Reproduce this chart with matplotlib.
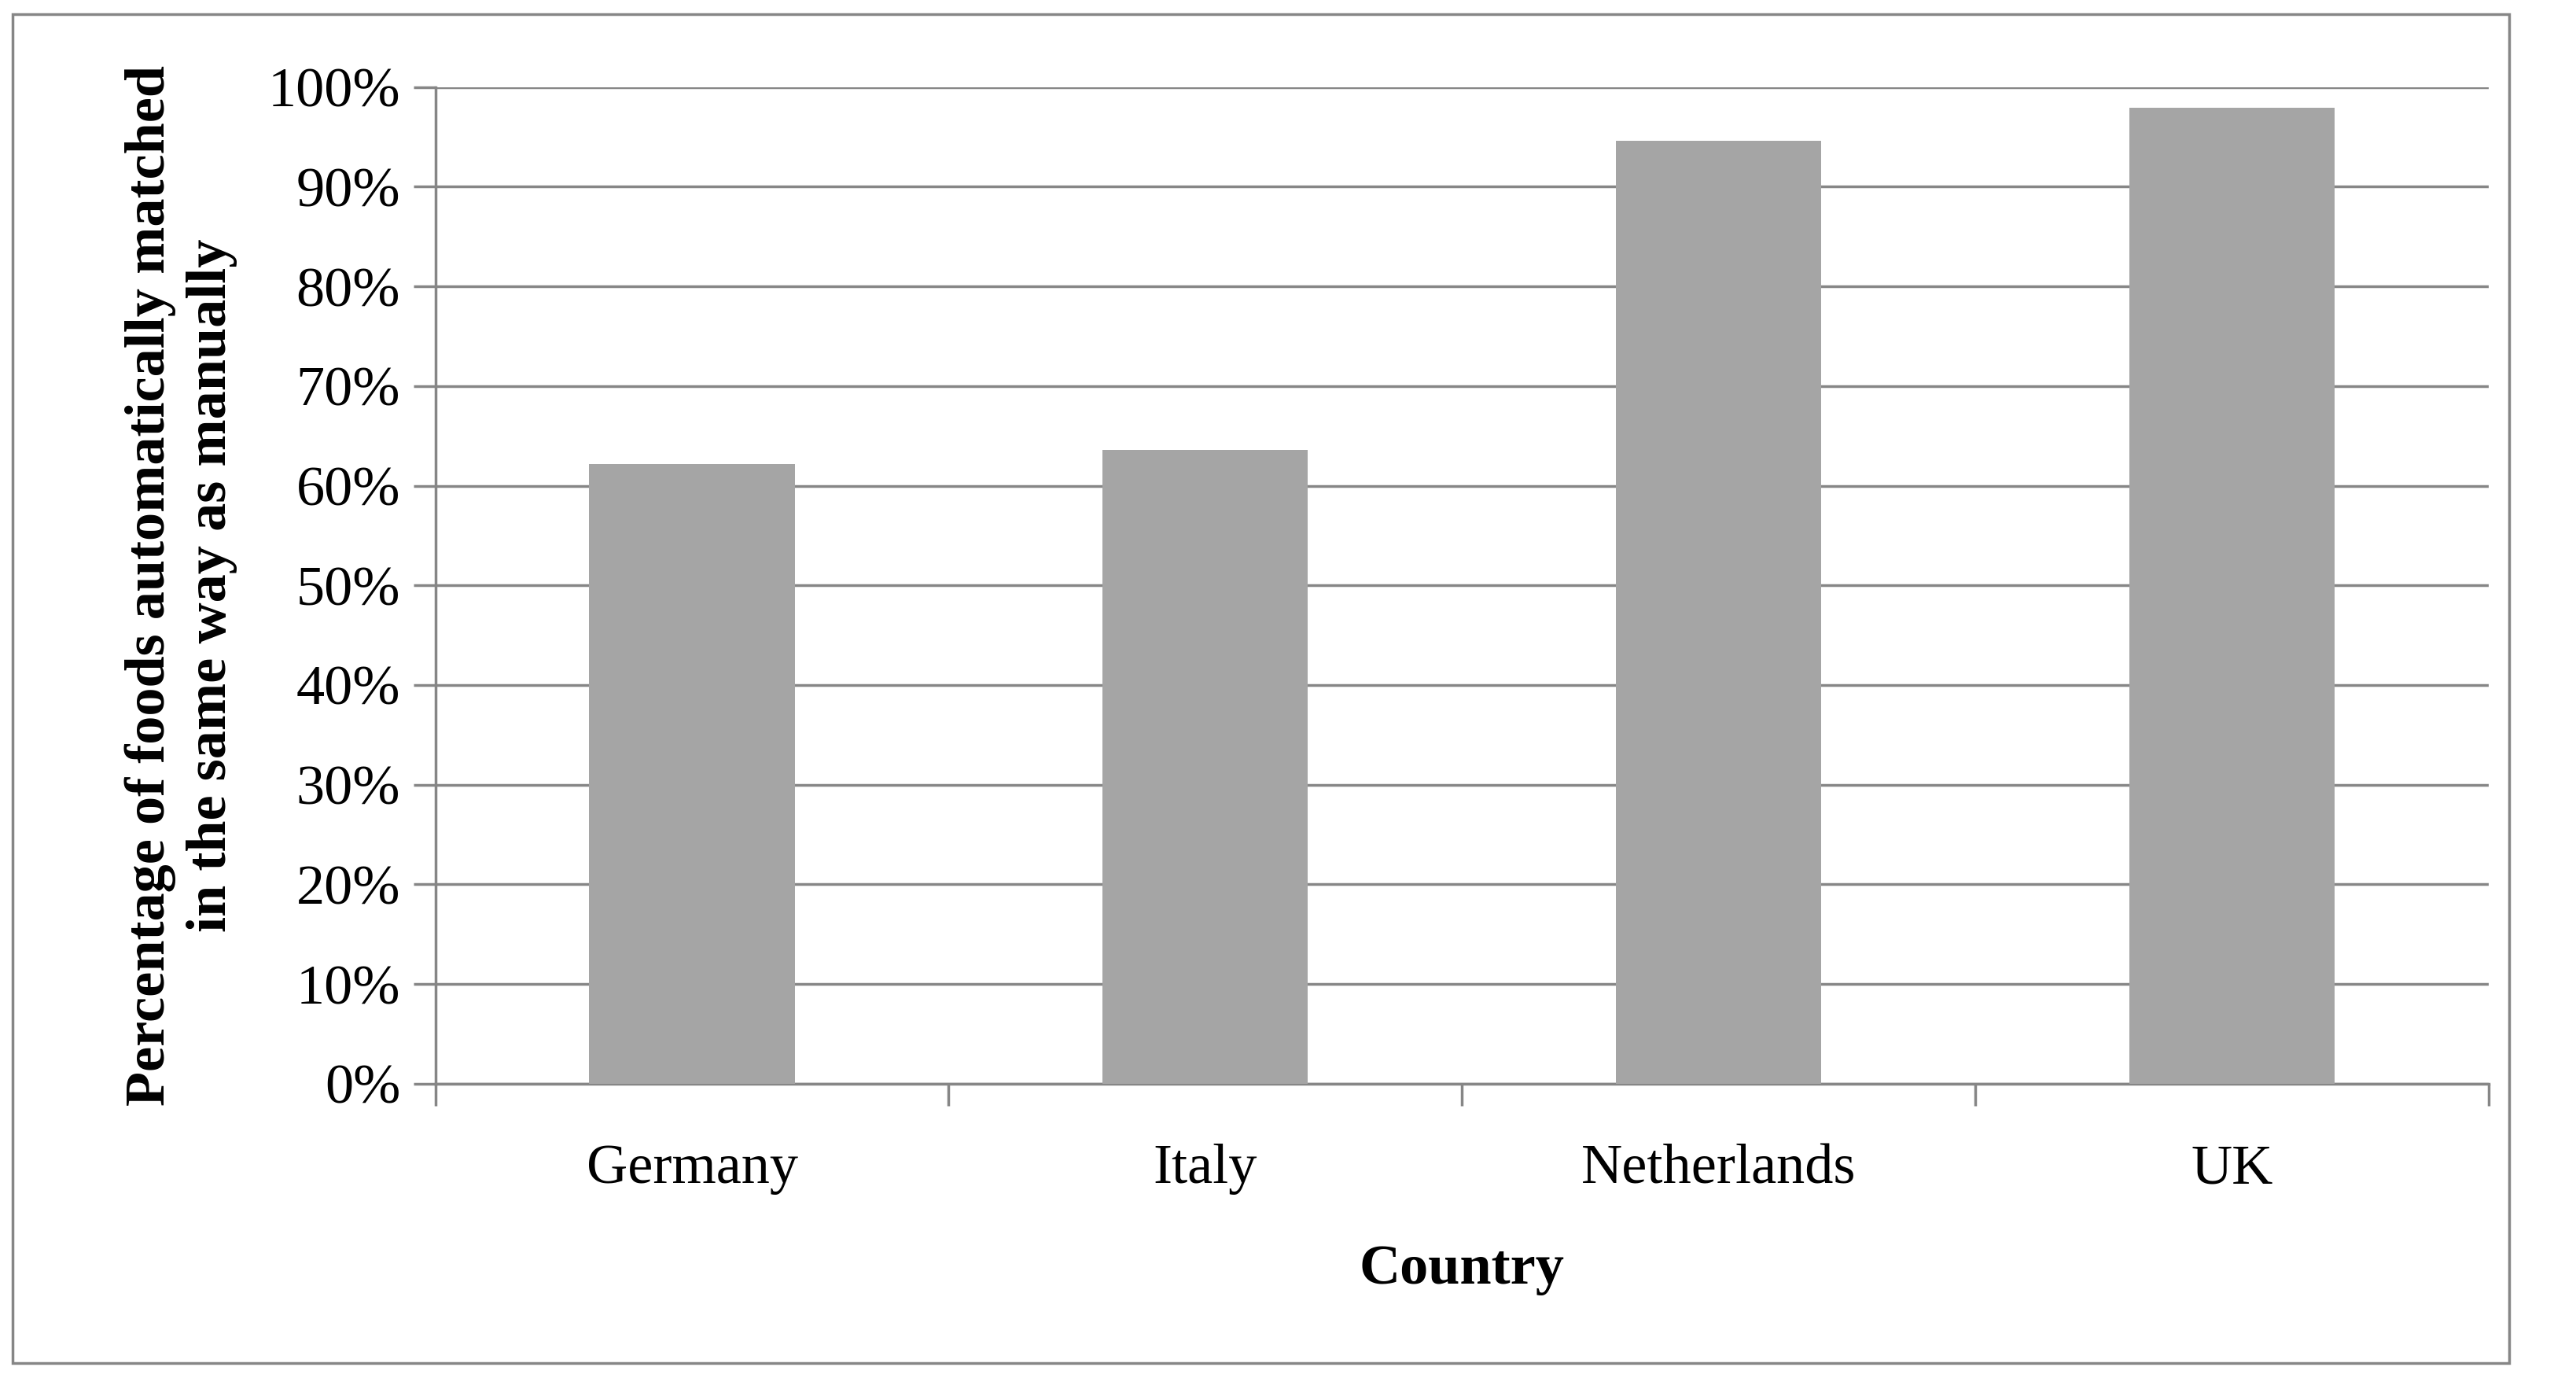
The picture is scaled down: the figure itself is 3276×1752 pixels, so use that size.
import matplotlib
matplotlib.use("Agg")
import matplotlib.pyplot as plt
from matplotlib.patches import Rectangle
from matplotlib.ticker import FixedLocator, NullFormatter

countries = ["Germany", "Italy", "Netherlands", "UK"]
values = [62.2, 63.6, 94.6, 97.9]
yticks = [0, 10, 20, 30, 40, 50, 60, 70, 80, 90, 100]
ylabels = [f"{t}%" for t in yticks]

plt.rcParams['font.family'] = ['Liberation Serif', 'DejaVu Serif']
fig = plt.figure(figsize=(32.76, 17.52), dpi=100)
ax = fig.add_axes([0.169, 0.2136, 0.797, 0.7232])
fig.patches.append(Rectangle((0.005, 0.011), 0.969, 0.979, transform=fig.transFigure,
                             fill=False, edgecolor="#868686", linewidth=2.5))

x = range(len(countries))
ax.bar(x, values, width=0.4, color="#a5a5a5", zorder=3)
ax.set_xlim(-0.5, len(countries) - 0.5)
ax.set_ylim(0, 100)
ax.set_yticks(yticks)
ax.set_yticklabels(ylabels, fontsize=52)
ax.yaxis.grid(True, color="#868686", linewidth=2.5, zorder=0)
ax.set_xticks(list(x))
ax.set_xticklabels(countries, fontsize=52)
ax.tick_params(axis="x", length=0, pad=55)
ax.xaxis.set_minor_locator(FixedLocator([i - 0.5 for i in range(len(countries) + 1)]))
ax.xaxis.set_minor_formatter(NullFormatter())
ax.tick_params(axis="x", which="minor", length=20, width=2.5, color="#868686")
ax.tick_params(axis="y", length=20, width=2.5, color="#868686", pad=12)
for s in ["top", "right"]:
    ax.spines[s].set_visible(False)
for s in ["left", "bottom"]:
    ax.spines[s].set_color("#868686")
    ax.spines[s].set_linewidth(2.5)
ax.set_xlabel("Country", fontsize=52, fontweight="bold", labelpad=45)
ax.set_ylabel("Percentage of foods automatically matched\nin the same way as manually",
              fontsize=52, fontweight="bold", labelpad=28, linespacing=1.25)
fig.savefig("out.png", dpi=100)
